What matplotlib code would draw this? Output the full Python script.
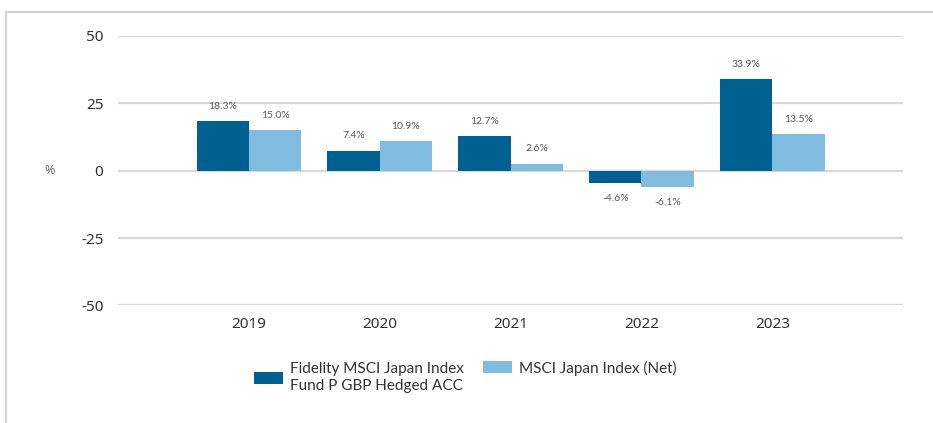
import matplotlib.pyplot as plt
import numpy as np
from matplotlib.lines import Line2D

plt.rcParams['axes.unicode_minus'] = False
plt.rcParams['font.family'] = ['Noto Sans', 'DejaVu Sans']

years = ['2019', '2020', '2021', '2022', '2023']
fund = [18.3, 7.4, 12.7, -4.6, 33.9]
index_net = [15.0, 10.9, 2.6, -6.1, 13.5]
fund_name = 'Fidelity MSCI Japan Index\nFund P GBP Hedged ACC'
index_name = 'MSCI Japan Index (Net)'

dark = '#00608f'
light = '#80bbe0'

fig = plt.figure(figsize=(9.33, 4.23), dpi=100)
ax = fig.add_axes([0.1265, 0.278, 0.8415, 0.637])

x = np.arange(len(years))
w = 0.4
b1 = ax.bar(x - w / 2, fund, w, color=dark, label=fund_name, zorder=3)
b2 = ax.bar(x + w / 2, index_net, w, color=light, label=index_name, zorder=3)

for bars, vals in ((b1, fund), (b2, index_net)):
    for bar, v in zip(bars, vals):
        off = 15 if v >= 0 else -15
        ax.annotate(f'{v:.1f}%', (bar.get_x() + bar.get_width() / 2, v),
                    xytext=(0, off), textcoords='offset pixels',
                    ha='center', va='center', fontsize=7.5, color='#5a5a5a',
                    family='Lato')

ax.set_xlim(-1, 5)
ax.set_ylim(-50, 50)
ax.set_yticks([-50, -25, 0, 25, 50])
ax.set_xticks(x)
ax.set_xticklabels(years)
ax.yaxis.grid(True, color='#d9d9d9', linewidth=1.6, zorder=0)
ax.set_axisbelow(True)
for s in ax.spines.values():
    s.set_visible(False)
ax.tick_params(axis='both', length=0, labelsize=11, colors='#333333')
ax.tick_params(axis='y', pad=10.5)
ax.tick_params(axis='x', pad=8)
ax.set_ylabel('%', rotation=0, fontsize=9, color='#666666', va='center')
ax.yaxis.set_label_coords(-0.087, 0.5)

leg_kw = dict(frameon=False, borderpad=0, borderaxespad=0, handlelength=1.9,
              handleheight=0.8, handletextpad=0.45, labelspacing=0.2,
              labelcolor='#333333', prop={'family': 'Lato', 'size': 11})
fig.legend(handles=[b1], loc='center left', bbox_to_anchor=(0.2722, 0.1076), **leg_kw)
fig.legend(handles=[b2], loc='center left', bbox_to_anchor=(0.5177, 0.130), **leg_kw)

# panel border
fig.add_artist(Line2D([0.0065, 1.0], [0.972, 0.972], color='#d4d4d4', lw=1.6))
fig.add_artist(Line2D([0.0065, 0.0065], [0.0, 0.972], color='#d4d4d4', lw=1.6))

plt.savefig('out.png', dpi=100)
